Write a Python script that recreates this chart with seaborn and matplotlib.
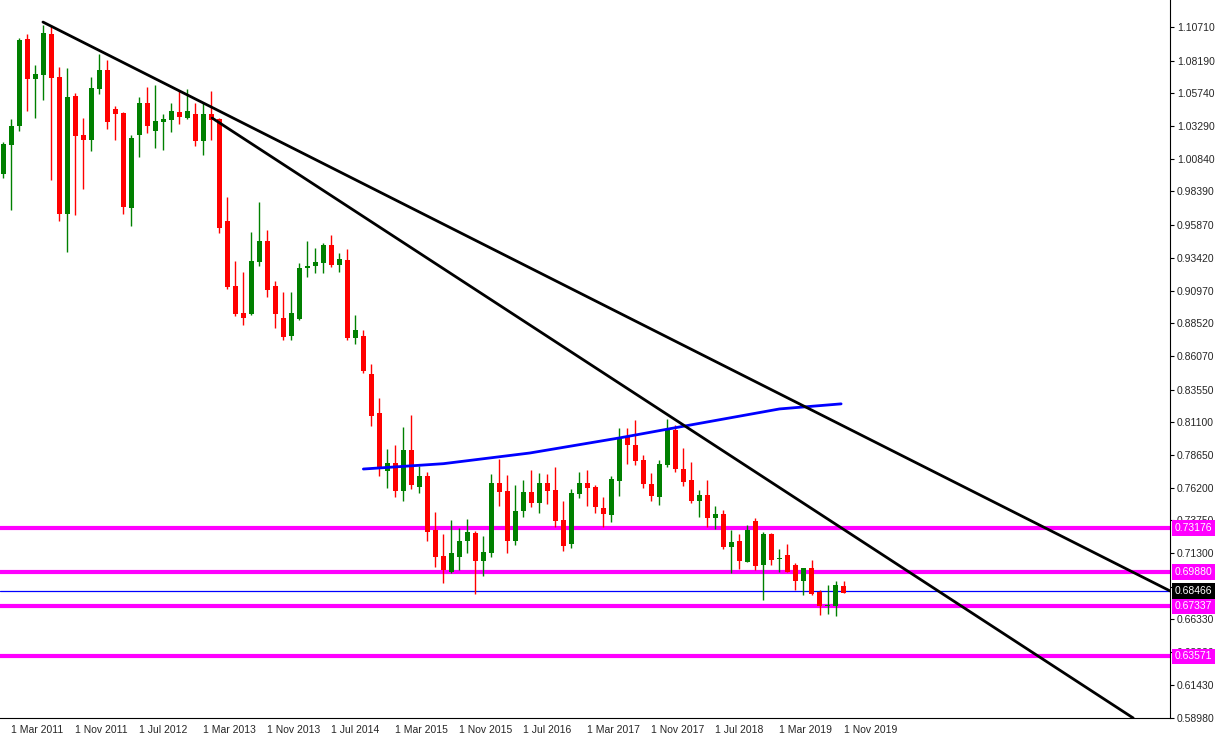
import numpy as np
import pandas as pd
import matplotlib
matplotlib.use("Agg")
import matplotlib.pyplot as plt
import seaborn as sns

# Monthly candles, Feb 2011 .. Nov 2019
opens = [0.9971, 1.0188, 1.0328, 1.0981, 1.0683, 1.0713, 1.1018, 1.0696, 0.9671, 1.0553,
         1.0261, 1.0223, 1.0606, 1.0748, 1.0456, 1.0426, 0.9716, 1.0261, 1.0501, 1.0291,
         1.0358, 1.0373, 1.0433, 1.0388, 1.0418, 1.0216, 1.0418, 1.0381, 0.9616, 0.9131,
         0.8931, 0.8923, 0.9313, 0.9471, 0.9131, 0.8891, 0.8756, 0.8886, 0.9263, 0.9281,
         0.9303, 0.9438, 0.9288, 0.9326, 0.8741, 0.8755, 0.8472, 0.8180, 0.7747, 0.7803,
         0.7598, 0.7903, 0.7628, 0.7708, 0.7305, 0.7108, 0.6991, 0.7103, 0.7218, 0.7281,
         0.7073, 0.7133, 0.7653, 0.7595, 0.7223, 0.7446, 0.7588, 0.7508, 0.7653, 0.7603,
         0.7378, 0.7200, 0.7575, 0.7653, 0.7628, 0.7468, 0.7418, 0.7673, 0.7998, 0.7938,
         0.7825, 0.7645, 0.7553, 0.7790, 0.8053, 0.7760, 0.7675, 0.7523, 0.7563, 0.7393,
         0.7420, 0.7175, 0.7218, 0.7063, 0.7368, 0.7040, 0.7273, 0.7083, 0.7115, 0.7042,
         0.6922, 0.7015, 0.6837, 0.6732, 0.6732, 0.6882]
highs = [1.0206, 1.0381, 1.0986, 1.1018, 1.0786, 1.1086, 1.1086, 1.0771, 1.0763, 1.0576,
         1.0391, 1.0696, 1.0868, 1.0823, 1.0478, 1.0433, 1.0261, 1.0546, 1.0621, 1.0636,
         1.0418, 1.0501, 1.0591, 1.0606, 1.0501, 1.0501, 1.0591, 1.0388, 0.9796, 0.9318,
         0.9236, 0.9536, 0.9763, 0.9551, 0.9168, 0.9088, 0.9088, 0.9303, 0.9468, 0.9416,
         0.9453, 0.9513, 0.9378, 0.9408, 0.8913, 0.8801, 0.8547, 0.8292, 0.7910, 0.7940,
         0.8075, 0.8165, 0.7780, 0.7740, 0.7436, 0.7273, 0.7378, 0.7318, 0.7385, 0.7298,
         0.7258, 0.7720, 0.7835, 0.7715, 0.7640, 0.7678, 0.7753, 0.7730, 0.7723, 0.7775,
         0.7520, 0.7610, 0.7738, 0.7753, 0.7640, 0.7550, 0.7705, 0.8065, 0.8065, 0.8125,
         0.7863, 0.7730, 0.7828, 0.8135, 0.8090, 0.7918, 0.7810, 0.7600, 0.7675, 0.7480,
         0.7453, 0.7303, 0.7273, 0.7338, 0.7390, 0.7288, 0.7280, 0.7160, 0.7202, 0.7055,
         0.7020, 0.7075, 0.6857, 0.6890, 0.6922, 0.6922]
lows = [0.9941, 0.9698, 1.0293, 1.0443, 1.0391, 1.0523, 0.9923, 0.9616, 0.9386, 0.9661,
        0.9856, 1.0141, 1.0568, 1.0306, 1.0223, 0.9671, 0.9578, 1.0098, 1.0276, 1.0163,
        1.0148, 1.0283, 1.0343, 1.0381, 1.0178, 1.0111, 1.0223, 0.9528, 0.9108, 0.8906,
        0.8838, 0.8916, 0.9283, 0.9048, 0.8816, 0.8728, 0.8728, 0.8878, 0.9198, 0.9228,
        0.9228, 0.9273, 0.9236, 0.8723, 0.8693, 0.8477, 0.8085, 0.7710, 0.7620, 0.7553,
        0.7523, 0.7613, 0.7583, 0.7223, 0.7028, 0.6904, 0.6983, 0.7003, 0.7128, 0.6824,
        0.6961, 0.7103, 0.7485, 0.7133, 0.7193, 0.7403, 0.7478, 0.7433, 0.7500, 0.7328,
        0.7148, 0.7170, 0.7545, 0.7485, 0.7433, 0.7328, 0.7363, 0.7560, 0.7798, 0.7790,
        0.7620, 0.7520, 0.7493, 0.7778, 0.7735, 0.7635, 0.7508, 0.7400, 0.7328, 0.7313,
        0.7160, 0.6980, 0.7010, 0.7063, 0.7005, 0.6781, 0.7043, 0.6990, 0.6985, 0.6852,
        0.6817, 0.6815, 0.6665, 0.6675, 0.6657, 0.6832]
closes = [1.0193, 1.0333, 1.0973, 1.0683, 1.0718, 1.1023, 1.0691, 0.9671, 1.0546, 1.0253,
          1.0223, 1.0613, 1.0748, 1.0358, 1.0418, 0.9721, 1.0238, 1.0501, 1.0328, 1.0366,
          1.0381, 1.0441, 1.0396, 1.0441, 1.0216, 1.0418, 1.0373, 0.9566, 0.9123, 0.8921,
          0.8891, 0.9318, 0.9471, 0.9101, 0.8921, 0.8748, 0.8928, 0.9266, 0.9281, 0.9311,
          0.9438, 0.9288, 0.9333, 0.8741, 0.8798, 0.8493, 0.8160, 0.7758, 0.7803, 0.7598,
          0.7903, 0.7643, 0.7705, 0.7290, 0.7103, 0.7006, 0.7131, 0.7218, 0.7288, 0.7073,
          0.7138, 0.7653, 0.7590, 0.7223, 0.7446, 0.7588, 0.7508, 0.7653, 0.7598, 0.7373,
          0.7185, 0.7578, 0.7653, 0.7620, 0.7475, 0.7425, 0.7685, 0.7998, 0.7940, 0.7820,
          0.7648, 0.7558, 0.7798, 0.8060, 0.7758, 0.7665, 0.7523, 0.7563, 0.7393, 0.7420,
          0.7175, 0.7210, 0.7070, 0.7300, 0.7033, 0.7273, 0.7078, 0.7093, 0.6990, 0.6922,
          0.7015, 0.6822, 0.6732, 0.6740, 0.6890, 0.6832]

# moving average (blue), sampled at candle indices
ma_idx = [45, 55, 65.8, 77, 84.5, 97, 104.7]
ma_val = [0.7760, 0.7800, 0.7880, 0.7993, 0.8075, 0.8210, 0.8248]

# trendlines (index, price)
trend1 = ([4.96, 145.8], [1.1108, 0.6847])
trend2 = ([26.1, 141.2], [1.0389, 0.5895])

levels = [0.73176, 0.69880, 0.67337, 0.63571]
current = 0.68466

yticks = [1.10710, 1.08190, 1.05740, 1.03290, 1.00840, 0.98390, 0.95870, 0.93420, 0.90970,
          0.88520, 0.86070, 0.83550, 0.81100, 0.78650, 0.76200, 0.73750, 0.71300, 0.68790,
          0.66330, 0.63880, 0.61430, 0.58980]
xlabels = ["1 Mar 2011", "1 Nov 2011", "1 Jul 2012", "1 Mar 2013", "1 Nov 2013", "1 Jul 2014",
           "1 Mar 2015", "1 Nov 2015", "1 Jul 2016", "1 Mar 2017", "1 Nov 2017", "1 Jul 2018",
           "1 Mar 2019", "1 Nov 2019"]

sns.set_style("white")
plt.rcParams['font.family'] = ['Liberation Sans', 'DejaVu Sans']

df = pd.DataFrame({"o": opens, "h": highs, "l": lows, "c": closes})
df["i"] = np.arange(len(df))
up = df["c"] >= df["o"]
df["col"] = np.where(up, "#008000", "#ff0000")

fig = plt.figure(figsize=(12.16, 7.39), dpi=100)
ax = fig.add_axes([0, 1 - 718 / 739, 1170 / 1216, 718 / 739])

ax.vlines(df["i"], df["l"], df["h"], colors=df["col"], linewidth=1.0, zorder=3)
body = (df["c"] - df["o"]).abs().clip(lower=0.0006)
ax.bar(df["i"], body, bottom=np.minimum(df["o"], df["c"]), width=0.62,
       color=df["col"], linewidth=0, zorder=4)

ma = pd.DataFrame({"i": ma_idx, "v": ma_val})
sns.lineplot(data=ma, x="i", y="v", color="#0000ff", linewidth=2, ax=ax, zorder=5)

ax.plot(*trend1, color="black", linewidth=2, zorder=6)
ax.plot(*trend2, color="black", linewidth=2, zorder=6)

for lv in levels:
    ax.axhline(lv, color="#ff00ff", linewidth=3, zorder=2)
ax.axhline(current, color="#0000ff", linewidth=0.9, zorder=2)

ax.set_xlim(-0.41, 145.8)
ax.set_ylim(0.5895, 1.12732)
ax.set_xlabel("")
ax.set_ylabel("")

ax.yaxis.tick_right()
ax.set_yticks(yticks)
ax.set_yticklabels([f"{t:.5f}" for t in yticks], fontsize=7.5)
ax.set_xticks(np.arange(1, 106, 8))
ax.set_xticklabels(xlabels, fontsize=7.5, ha="left")
ax.tick_params(axis="both", length=3, color="black", direction="out", pad=2)
for s in ["top", "left"]:
    ax.spines[s].set_visible(False)
for s in ["right", "bottom"]:
    ax.spines[s].set_color("black")

tag_opts = dict(transform=ax.get_yaxis_transform(), fontsize=7.5, color="white",
                va="center", ha="left", zorder=10, clip_on=False)
for lv in levels:
    ax.text(1.004, lv, f"{lv:.5f}",
            bbox=dict(facecolor="#ff00ff", edgecolor="none", boxstyle="square,pad=0.25"),
            **tag_opts)
ax.text(1.004, current, f"{current:.5f}",
        bbox=dict(facecolor="black", edgecolor="none", boxstyle="square,pad=0.25"),
        **tag_opts)

fig.savefig("out.png", dpi=100)
